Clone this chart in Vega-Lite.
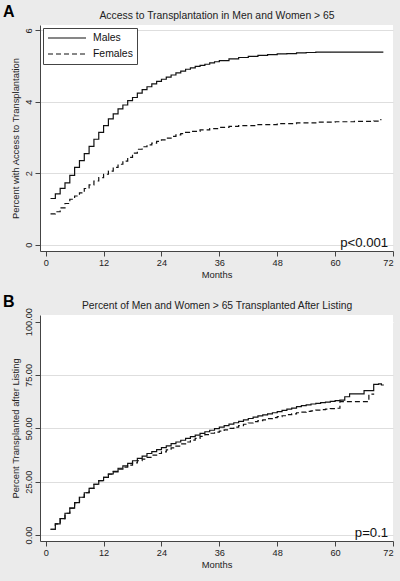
{
  "$schema": "https://vega.github.io/schema/vega-lite/v6.json",
  "background": "#ebebeb",
  "padding": {"left": 3, "top": 4, "right": 20, "bottom": 60},
  "spacing": 64,
  "bounds": "flush",
  "datasets": {
    "access": [
      {"month": 1, "value": 1.29, "sex": "Males"},
      {"month": 2, "value": 1.42, "sex": "Males"},
      {"month": 3, "value": 1.575, "sex": "Males"},
      {"month": 4, "value": 1.73, "sex": "Males"},
      {"month": 5, "value": 1.94, "sex": "Males"},
      {"month": 6, "value": 2.16, "sex": "Males"},
      {"month": 7, "value": 2.35, "sex": "Males"},
      {"month": 8, "value": 2.55, "sex": "Males"},
      {"month": 9, "value": 2.75, "sex": "Males"},
      {"month": 10, "value": 2.95, "sex": "Males"},
      {"month": 11, "value": 3.14, "sex": "Males"},
      {"month": 12, "value": 3.33, "sex": "Males"},
      {"month": 13, "value": 3.52, "sex": "Males"},
      {"month": 14, "value": 3.66, "sex": "Males"},
      {"month": 15, "value": 3.8, "sex": "Males"},
      {"month": 16, "value": 3.91, "sex": "Males"},
      {"month": 17, "value": 4.03, "sex": "Males"},
      {"month": 18, "value": 4.12, "sex": "Males"},
      {"month": 19, "value": 4.24, "sex": "Males"},
      {"month": 20, "value": 4.34, "sex": "Males"},
      {"month": 21, "value": 4.42, "sex": "Males"},
      {"month": 22, "value": 4.5, "sex": "Males"},
      {"month": 23, "value": 4.57, "sex": "Males"},
      {"month": 24, "value": 4.63, "sex": "Males"},
      {"month": 25, "value": 4.69, "sex": "Males"},
      {"month": 26, "value": 4.75, "sex": "Males"},
      {"month": 27, "value": 4.81, "sex": "Males"},
      {"month": 28, "value": 4.86, "sex": "Males"},
      {"month": 29, "value": 4.91, "sex": "Males"},
      {"month": 30, "value": 4.95, "sex": "Males"},
      {"month": 31, "value": 4.99, "sex": "Males"},
      {"month": 32, "value": 5.02, "sex": "Males"},
      {"month": 33, "value": 5.05, "sex": "Males"},
      {"month": 34, "value": 5.09, "sex": "Males"},
      {"month": 35, "value": 5.12, "sex": "Males"},
      {"month": 36, "value": 5.15, "sex": "Males"},
      {"month": 38, "value": 5.2, "sex": "Males"},
      {"month": 40, "value": 5.24, "sex": "Males"},
      {"month": 42, "value": 5.27, "sex": "Males"},
      {"month": 44, "value": 5.3, "sex": "Males"},
      {"month": 46, "value": 5.32, "sex": "Males"},
      {"month": 48, "value": 5.34, "sex": "Males"},
      {"month": 50, "value": 5.35, "sex": "Males"},
      {"month": 52, "value": 5.37, "sex": "Males"},
      {"month": 54, "value": 5.38, "sex": "Males"},
      {"month": 56, "value": 5.39, "sex": "Males"},
      {"month": 70, "value": 5.39, "sex": "Males"},
      {"month": 1, "value": 0.86, "sex": "Females"},
      {"month": 2, "value": 0.92, "sex": "Females"},
      {"month": 3, "value": 1.03, "sex": "Females"},
      {"month": 4, "value": 1.15, "sex": "Females"},
      {"month": 5, "value": 1.27, "sex": "Females"},
      {"month": 6, "value": 1.36, "sex": "Females"},
      {"month": 7, "value": 1.45, "sex": "Females"},
      {"month": 8, "value": 1.57, "sex": "Females"},
      {"month": 9, "value": 1.67, "sex": "Females"},
      {"month": 10, "value": 1.78, "sex": "Females"},
      {"month": 11, "value": 1.875, "sex": "Females"},
      {"month": 12, "value": 1.97, "sex": "Females"},
      {"month": 13, "value": 2.06, "sex": "Females"},
      {"month": 14, "value": 2.16, "sex": "Females"},
      {"month": 15, "value": 2.25, "sex": "Females"},
      {"month": 16, "value": 2.34, "sex": "Females"},
      {"month": 17, "value": 2.44, "sex": "Females"},
      {"month": 18, "value": 2.56, "sex": "Females"},
      {"month": 19, "value": 2.67, "sex": "Females"},
      {"month": 20, "value": 2.74, "sex": "Females"},
      {"month": 21, "value": 2.79, "sex": "Females"},
      {"month": 22, "value": 2.84, "sex": "Females"},
      {"month": 23, "value": 2.89, "sex": "Females"},
      {"month": 24, "value": 2.93, "sex": "Females"},
      {"month": 25, "value": 2.98, "sex": "Females"},
      {"month": 26, "value": 3.03, "sex": "Females"},
      {"month": 27, "value": 3.07, "sex": "Females"},
      {"month": 28, "value": 3.11, "sex": "Females"},
      {"month": 29, "value": 3.14, "sex": "Females"},
      {"month": 30, "value": 3.17, "sex": "Females"},
      {"month": 32, "value": 3.21, "sex": "Females"},
      {"month": 34, "value": 3.25, "sex": "Females"},
      {"month": 36, "value": 3.28, "sex": "Females"},
      {"month": 38, "value": 3.31, "sex": "Females"},
      {"month": 40, "value": 3.33, "sex": "Females"},
      {"month": 44, "value": 3.36, "sex": "Females"},
      {"month": 48, "value": 3.39, "sex": "Females"},
      {"month": 52, "value": 3.41, "sex": "Females"},
      {"month": 56, "value": 3.43, "sex": "Females"},
      {"month": 60, "value": 3.44, "sex": "Females"},
      {"month": 64, "value": 3.45, "sex": "Females"},
      {"month": 68, "value": 3.46, "sex": "Females"},
      {"month": 69.2, "value": 3.5, "sex": "Females"},
      {"month": 69.6, "value": 3.5, "sex": "Females"}
    ],
    "listed": [
      {"month": 1, "value": 2.7, "sex": "Males"},
      {"month": 2, "value": 5.2, "sex": "Males"},
      {"month": 3, "value": 7.7, "sex": "Males"},
      {"month": 4, "value": 10.2, "sex": "Males"},
      {"month": 5, "value": 12.6, "sex": "Males"},
      {"month": 6, "value": 15.2, "sex": "Males"},
      {"month": 7, "value": 17.7, "sex": "Males"},
      {"month": 8, "value": 19.8, "sex": "Males"},
      {"month": 9, "value": 21.9, "sex": "Males"},
      {"month": 10, "value": 23.8, "sex": "Males"},
      {"month": 11, "value": 25.5, "sex": "Males"},
      {"month": 12, "value": 27.0, "sex": "Males"},
      {"month": 13, "value": 28.6, "sex": "Males"},
      {"month": 14, "value": 29.8, "sex": "Males"},
      {"month": 15, "value": 31.3, "sex": "Males"},
      {"month": 16, "value": 32.4, "sex": "Males"},
      {"month": 17, "value": 33.6, "sex": "Males"},
      {"month": 18, "value": 34.8, "sex": "Males"},
      {"month": 19, "value": 35.9, "sex": "Males"},
      {"month": 20, "value": 37.0, "sex": "Males"},
      {"month": 21, "value": 38.2, "sex": "Males"},
      {"month": 22, "value": 39.1, "sex": "Males"},
      {"month": 23, "value": 40.0, "sex": "Males"},
      {"month": 24, "value": 41.0, "sex": "Males"},
      {"month": 25, "value": 41.8, "sex": "Males"},
      {"month": 26, "value": 42.8, "sex": "Males"},
      {"month": 27, "value": 43.6, "sex": "Males"},
      {"month": 28, "value": 44.4, "sex": "Males"},
      {"month": 29, "value": 45.3, "sex": "Males"},
      {"month": 30, "value": 46.1, "sex": "Males"},
      {"month": 31, "value": 46.8, "sex": "Males"},
      {"month": 32, "value": 47.6, "sex": "Males"},
      {"month": 33, "value": 48.4, "sex": "Males"},
      {"month": 34, "value": 49.1, "sex": "Males"},
      {"month": 35, "value": 49.9, "sex": "Males"},
      {"month": 36, "value": 50.6, "sex": "Males"},
      {"month": 37, "value": 51.3, "sex": "Males"},
      {"month": 38, "value": 52.0, "sex": "Males"},
      {"month": 39, "value": 52.6, "sex": "Males"},
      {"month": 40, "value": 53.3, "sex": "Males"},
      {"month": 41, "value": 54.0, "sex": "Males"},
      {"month": 42, "value": 54.6, "sex": "Males"},
      {"month": 43, "value": 55.2, "sex": "Males"},
      {"month": 44, "value": 55.8, "sex": "Males"},
      {"month": 45, "value": 56.3, "sex": "Males"},
      {"month": 46, "value": 56.8, "sex": "Males"},
      {"month": 47, "value": 57.3, "sex": "Males"},
      {"month": 48, "value": 57.8, "sex": "Males"},
      {"month": 49, "value": 58.4, "sex": "Males"},
      {"month": 50, "value": 59.0, "sex": "Males"},
      {"month": 51, "value": 59.5, "sex": "Males"},
      {"month": 52, "value": 60.2, "sex": "Males"},
      {"month": 53, "value": 60.6, "sex": "Males"},
      {"month": 54, "value": 61.0, "sex": "Males"},
      {"month": 55, "value": 61.4, "sex": "Males"},
      {"month": 56, "value": 61.7, "sex": "Males"},
      {"month": 57, "value": 62.0, "sex": "Males"},
      {"month": 58, "value": 62.3, "sex": "Males"},
      {"month": 59, "value": 62.6, "sex": "Males"},
      {"month": 60, "value": 63.0, "sex": "Males"},
      {"month": 61, "value": 63.2, "sex": "Males"},
      {"month": 62, "value": 64.8, "sex": "Males"},
      {"month": 63, "value": 66.1, "sex": "Males"},
      {"month": 66, "value": 67.7, "sex": "Males"},
      {"month": 68, "value": 70.6, "sex": "Males"},
      {"month": 69, "value": 70.8, "sex": "Males"},
      {"month": 69.6, "value": 70.3, "sex": "Males"},
      {"month": 70.1, "value": 70.3, "sex": "Males"},
      {"month": 1, "value": 2.7, "sex": "Females"},
      {"month": 2, "value": 5.2, "sex": "Females"},
      {"month": 3, "value": 7.7, "sex": "Females"},
      {"month": 4, "value": 10.2, "sex": "Females"},
      {"month": 5, "value": 12.6, "sex": "Females"},
      {"month": 6, "value": 15.2, "sex": "Females"},
      {"month": 7, "value": 17.7, "sex": "Females"},
      {"month": 8, "value": 19.8, "sex": "Females"},
      {"month": 9, "value": 21.9, "sex": "Females"},
      {"month": 10, "value": 23.8, "sex": "Females"},
      {"month": 11, "value": 25.5, "sex": "Females"},
      {"month": 12, "value": 27.0, "sex": "Females"},
      {"month": 13, "value": 28.5, "sex": "Females"},
      {"month": 14, "value": 29.6, "sex": "Females"},
      {"month": 15, "value": 30.9, "sex": "Females"},
      {"month": 16, "value": 31.8, "sex": "Females"},
      {"month": 17, "value": 32.8, "sex": "Females"},
      {"month": 18, "value": 33.8, "sex": "Females"},
      {"month": 19, "value": 34.8, "sex": "Females"},
      {"month": 20, "value": 35.6, "sex": "Females"},
      {"month": 21, "value": 36.4, "sex": "Females"},
      {"month": 22, "value": 37.4, "sex": "Females"},
      {"month": 23, "value": 38.2, "sex": "Females"},
      {"month": 24, "value": 39.0, "sex": "Females"},
      {"month": 25, "value": 39.9, "sex": "Females"},
      {"month": 26, "value": 40.8, "sex": "Females"},
      {"month": 27, "value": 41.7, "sex": "Females"},
      {"month": 28, "value": 42.7, "sex": "Females"},
      {"month": 29, "value": 43.6, "sex": "Females"},
      {"month": 30, "value": 44.5, "sex": "Females"},
      {"month": 31, "value": 45.3, "sex": "Females"},
      {"month": 32, "value": 46.2, "sex": "Females"},
      {"month": 33, "value": 47.0, "sex": "Females"},
      {"month": 34, "value": 47.7, "sex": "Females"},
      {"month": 35, "value": 48.2, "sex": "Females"},
      {"month": 36, "value": 48.7, "sex": "Females"},
      {"month": 37, "value": 49.3, "sex": "Females"},
      {"month": 38, "value": 50.0, "sex": "Females"},
      {"month": 39, "value": 50.6, "sex": "Females"},
      {"month": 40, "value": 51.3, "sex": "Females"},
      {"month": 41, "value": 51.9, "sex": "Females"},
      {"month": 42, "value": 52.5, "sex": "Females"},
      {"month": 43, "value": 53.1, "sex": "Females"},
      {"month": 44, "value": 53.6, "sex": "Females"},
      {"month": 45, "value": 54.0, "sex": "Females"},
      {"month": 46, "value": 54.5, "sex": "Females"},
      {"month": 47, "value": 55.0, "sex": "Females"},
      {"month": 48, "value": 55.5, "sex": "Females"},
      {"month": 49, "value": 55.9, "sex": "Females"},
      {"month": 50, "value": 56.4, "sex": "Females"},
      {"month": 51, "value": 56.8, "sex": "Females"},
      {"month": 52, "value": 57.3, "sex": "Females"},
      {"month": 53, "value": 57.6, "sex": "Females"},
      {"month": 54, "value": 57.9, "sex": "Females"},
      {"month": 55, "value": 58.2, "sex": "Females"},
      {"month": 56, "value": 58.5, "sex": "Females"},
      {"month": 57, "value": 58.8, "sex": "Females"},
      {"month": 58, "value": 59.0, "sex": "Females"},
      {"month": 59, "value": 59.2, "sex": "Females"},
      {"month": 60, "value": 59.4, "sex": "Females"},
      {"month": 61, "value": 62.5, "sex": "Females"},
      {"month": 67, "value": 66.0, "sex": "Females"},
      {"month": 68.1, "value": 66.0, "sex": "Females"}
    ]
  },
  "vconcat": [
    {
      "title": {"text": "A"},
      "width": 353,
      "height": 226,
      "layer": [
        {
          "data": {"name": "access"},
          "mark": {"type": "line", "interpolate": "step-after", "stroke": "#111", "strokeWidth": 1.2},
          "encoding": {
            "x": {"field": "month", "type": "quantitative",
              "scale": {"domain": [-1.18, 72.0], "nice": false, "zero": false},
              "axis": {"orient": "bottom", "title": "Months", "values": [0, 12, 24, 36, 48, 60, 72], "grid": false}},
            "y": {"field": "value", "type": "quantitative",
              "scale": {"domain": [-0.18, 6.15], "nice": false, "zero": false},
              "axis": {"title": "Percent with Access to Transplantation", "values": [0, 2, 4, 6], "grid": true, "gridColor": "#dedede", "zindex": 0}},
            "strokeDash": {"field": "sex", "type": "nominal",
              "scale": {"domain": ["Males", "Females"], "range": [[1, 0], [5, 3]]}}
          }
        },
        {
          "data": {"values": [{"label": "p<0.001"}]},
          "mark": {"type": "text", "align": "right", "baseline": "alphabetic", "fontSize": 13.2, "color": "#111"},
          "encoding": {
            "x": {"datum": 71.0, "type": "quantitative",
              "axis": {"orient": "top", "title": "Access to Transplantation in Men and Women > 65", "labels": false, "ticks": false, "domain": false, "grid": false, "titleFontSize": 10.4, "titlePadding": 5}},
            "y": {"datum": -0.07, "type": "quantitative"},
            "text": {"field": "label"}
          }
        }
      ],
      "resolve": {"axis": {"x": "independent"}}
    },
    {
      "title": {"text": "B"},
      "width": 353,
      "height": 226,
      "layer": [
        {
          "data": {"name": "listed"},
          "mark": {"type": "line", "interpolate": "step-after", "stroke": "#111", "strokeWidth": 1.2},
          "encoding": {
            "x": {"field": "month", "type": "quantitative",
              "scale": {"domain": [-1.18, 72.0], "nice": false, "zero": false},
              "axis": {"orient": "bottom", "title": "Months", "values": [0, 12, 24, 36, 48, 60, 72], "grid": false}},
            "y": {"field": "value", "type": "quantitative",
              "scale": {"domain": [-2.8, 103.1], "nice": false, "zero": false},
              "axis": {"title": "Percent Transplanted after Listing", "values": [0, 25, 50, 75, 100], "format": ".2f",
                "gridColor": {"condition": {"test": "datum.value == 100", "value": "white"}, "value": "#dedede"}}},
            "strokeDash": {"field": "sex", "type": "nominal",
              "scale": {"domain": ["Males", "Females"], "range": [[1, 0], [5, 3]]}}
          }
        },
        {
          "data": {"values": [{"label": "p=0.1"}]},
          "mark": {"type": "text", "align": "right", "baseline": "alphabetic", "fontSize": 13.2, "color": "#111"},
          "encoding": {
            "x": {"datum": 71.0, "type": "quantitative",
              "axis": {"orient": "top", "title": "Percent of Men and Women > 65 Transplanted After Listing", "labels": false, "ticks": false, "domain": false, "grid": false, "titleFontSize": 10.3, "titlePadding": 5}},
            "y": {"datum": -0.94, "type": "quantitative", "axis": {"title": "Percent Transplanted after Listing", "values": [0, 25, 50, 75, 100], "format": ".2f",
                "gridColor": {"condition": {"test": "datum.value == 100", "value": "white"}, "value": "#dedede"}}},
            "text": {"field": "label"}
          }
        }
      ],
      "resolve": {"axis": {"x": "independent"}}
    }
  ],
  "config": {
    "font": "Liberation Sans",
    "view": {"fill": "white", "stroke": null},
    "title": {"anchor": "start", "frame": "group", "fontSize": 16, "fontWeight": "bold", "color": "#000", "dx": -37, "offset": -10, "font": "Liberation Sans"},
    "axis": {
      "domainColor": "#444", "tickColor": "#444", "labelColor": "#222", "titleColor": "#222",
      "labelFontSize": 9.2, "titleFontSize": 9.4, "titleFontWeight": "normal",
      "tickSize": 5, "labelPadding": 2.5, "titlePadding": 3,
      "gridColor": "#dedede", "gridWidth": 1.2
    },
    "axisY": {"labelAngle": -90, "labelPadding": 2, "titlePadding": 4},
    "legend": {
      "orient": "top-left", "offset": 3, "title": null,
      "fillColor": "white", "strokeColor": "#444", "padding": 4,
      "symbolType": "M-1,0H6.6", "symbolSize": 100, "symbolStrokeWidth": 1.2, "symbolStrokeColor": "#111",
      "labelFontSize": 10.4, "labelColor": "#111", "labelOffset": 34, "rowPadding": 4
    }
  }
}
